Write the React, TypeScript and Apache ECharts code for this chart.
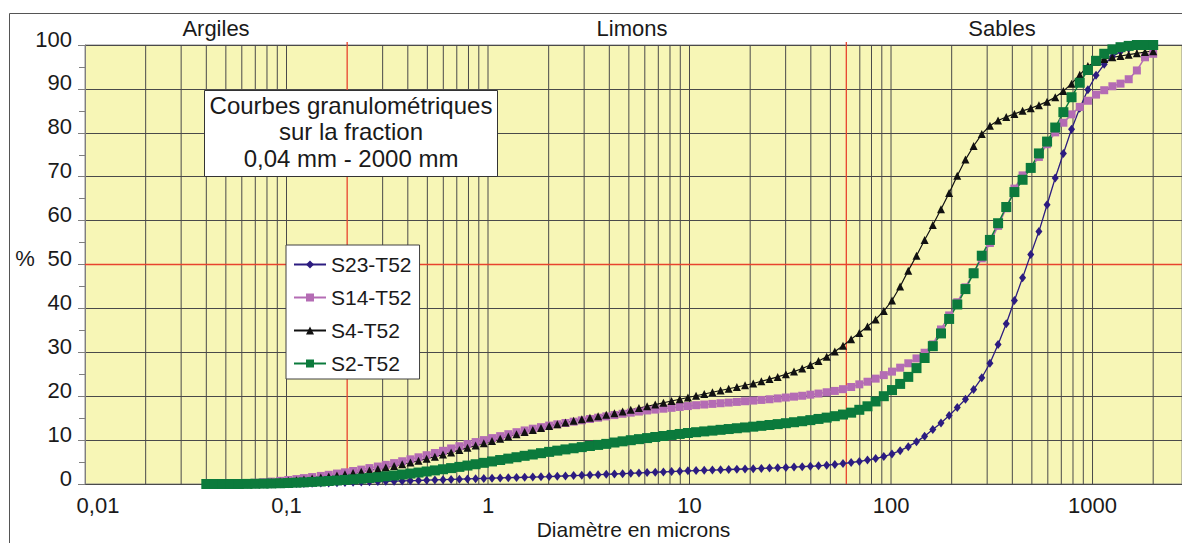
import React, { useEffect, useRef } from 'react';
import * as echarts from 'echarts';

// Particle diameters (µm) of the granulometer channels
const diameters = [
  0.04, 0.044, 0.048, 0.053, 0.058, 0.064, 0.07, 0.077, 0.084, 0.093,
  0.102, 0.112, 0.122, 0.134, 0.148, 0.162, 0.178, 0.195, 0.214, 0.235,
  0.258, 0.284, 0.311, 0.342, 0.375, 0.412, 0.452, 0.496, 0.545, 0.598,
  0.656, 0.721, 0.791, 0.868, 0.953, 1.047, 1.149, 1.261, 1.385, 1.52,
  1.668, 1.832, 2.011, 2.207, 2.423, 2.66, 2.92, 3.205, 3.519, 3.862,
  4.241, 4.656, 5.111, 5.611, 6.159, 6.761, 7.422, 8.148, 8.944, 9.819,
  10.78, 11.83, 12.99, 14.26, 15.65, 17.18, 18.86, 20.71, 22.73, 24.95,
  27.39, 30.07, 33.01, 36.24, 39.78, 43.67, 47.94, 52.62, 57.77, 63.41,
  69.61, 76.42, 83.9, 92.09, 101.1, 111, 121.8, 133.8, 146.8, 161.2,
  177, 194.3, 213.2, 234.1, 257, 282.1, 309.6, 339.9, 373.1, 409.6,
  449.7, 493.6, 541.9, 594.9, 653, 716.8, 786.9, 863.9, 948.3, 1041,
  1143, 1255, 1377, 1512, 1660, 1822, 2000,
];

const s23 = [
  0, 0, 0, 0, 0, 0, 0, 0, 0.02, 0.04,
  0.06, 0.09, 0.12, 0.16, 0.2, 0.25, 0.3, 0.35, 0.4, 0.45,
  0.5, 0.55, 0.6, 0.65, 0.7, 0.75, 0.8, 0.86, 0.92, 0.98,
  1.04, 1.1, 1.16, 1.22, 1.28, 1.33, 1.38, 1.43, 1.48, 1.53,
  1.58, 1.64, 1.7, 1.77, 1.84, 1.91, 1.98, 2.05, 2.12, 2.2,
  2.28, 2.36, 2.44, 2.52, 2.6, 2.68, 2.76, 2.84, 2.92, 3.0,
  3.06, 3.12, 3.18, 3.24, 3.3, 3.36, 3.42, 3.48, 3.55, 3.62,
  3.69, 3.77, 3.85, 3.94, 4.04, 4.15, 4.28, 4.45, 4.65, 4.9,
  5.15, 5.45, 5.8, 6.25, 6.85, 7.6, 8.5, 9.6, 10.9, 12.4,
  13.9, 15.6, 17.4, 19.3, 21.5, 24.2, 27.5, 31.8, 36.5, 41.8,
  47.0, 52.3, 57.5, 63.6, 69.7, 75.3, 80.8, 85.6, 89.8, 93.1,
  95.6, 97.4, 98.5, 99.2, 99.6, 99.9, 100,
];

const s14 = [
  0, 0, 0.02, 0.05, 0.1, 0.18, 0.28, 0.4, 0.55, 0.72,
  0.92, 1.12, 1.34, 1.58, 1.84, 2.1, 2.38, 2.66, 2.96, 3.28,
  3.62, 3.98, 4.36, 4.76, 5.18, 5.62, 6.08, 6.56, 7.06, 7.56,
  8.1, 8.6, 9.1, 9.55, 10.0, 10.45, 10.9, 11.35, 11.8, 12.2,
  12.6, 12.95, 13.3, 13.6, 13.9, 14.2, 14.5, 14.8, 15.1, 15.4,
  15.7, 16.0, 16.25, 16.5, 16.75, 16.95, 17.15, 17.35, 17.55, 17.75,
  17.95, 18.1, 18.25, 18.4, 18.55, 18.7, 18.85, 19.0, 19.15, 19.3,
  19.5, 19.7, 19.9, 20.1, 20.35, 20.6, 20.9, 21.2, 21.6, 22.1,
  22.7, 23.3, 24.0, 24.8, 25.6, 26.5, 27.5, 28.6, 29.9, 31.8,
  35.2, 38.4, 41.4, 44.8, 48.2, 51.4, 54.9, 58.8, 62.8, 67.3,
  70.3, 72.0, 74.5, 77.4, 80.1, 82.3, 84.2, 85.9, 87.3, 88.7,
  89.7, 90.6, 91.2, 92.2, 94.2, 97.2, 98.0,
];

const s4 = [
  0, 0, 0.02, 0.05, 0.1, 0.15, 0.2, 0.3, 0.42, 0.56,
  0.72, 0.88, 1.05, 1.25, 1.48, 1.7, 1.95, 2.2, 2.5, 2.8,
  3.1, 3.42, 3.76, 4.12, 4.5, 4.9, 5.32, 5.76, 6.22, 6.7,
  7.2, 7.72, 8.24, 8.76, 9.28, 9.8, 10.32, 10.84, 11.34, 11.84,
  12.3, 12.76, 13.2, 13.62, 14.02, 14.4, 14.76, 15.1, 15.44, 15.76,
  16.1, 16.5, 16.9, 17.3, 17.7, 18.1, 18.5, 18.9, 19.3, 19.7,
  20.1, 20.5, 20.9, 21.3, 21.7, 22.1, 22.5, 22.9, 23.4, 23.9,
  24.4, 25.0, 25.6, 26.3, 27.1, 28.0, 29.0, 30.2, 31.5, 33.0,
  34.4, 35.9, 37.5, 39.4, 41.8, 45.0, 48.6, 52.0, 55.6, 59.0,
  62.6, 66.3, 70.2, 73.9, 77.0, 79.7, 81.6, 82.8, 83.6, 84.3,
  85.0, 85.6, 86.3, 87.1, 88.1, 89.5, 91.2, 93.2, 95.2, 96.2,
  96.8, 97.2, 97.5, 97.8, 98.1, 98.4, 98.6,
];

const s2 = [
  0, 0, 0, 0, 0, 0.02, 0.05, 0.08, 0.12, 0.17,
  0.23, 0.3, 0.38, 0.47, 0.57, 0.68, 0.8, 0.93, 1.07, 1.22,
  1.38, 1.56, 1.75, 1.95, 2.16, 2.38, 2.61, 2.85, 3.1, 3.36,
  3.62, 3.9, 4.2, 4.5, 4.82, 5.14, 5.46, 5.78, 6.1, 6.42,
  6.72, 7.02, 7.32, 7.6, 7.88, 8.14, 8.4, 8.66, 8.9, 9.14,
  9.45, 9.72, 9.98, 10.22, 10.46, 10.7, 10.94, 11.17, 11.4, 11.62,
  11.8, 11.98, 12.16, 12.34, 12.52, 12.7, 12.88, 13.06, 13.25, 13.44,
  13.64, 13.85, 14.07, 14.3, 14.55, 14.82, 15.12, 15.45, 15.82, 16.25,
  16.9, 17.7, 18.8, 20.0, 21.4, 22.8, 24.4, 26.4, 28.7, 31.4,
  34.3, 37.6, 40.9, 44.4, 48.0, 52.0, 55.6, 59.4, 63.1, 66.5,
  69.3, 72.0, 75.3, 78.0, 81.2, 84.7, 88.1, 91.4, 94.3, 96.4,
  98.0, 99.0, 99.5, 99.8, 100, 100, 100,
];

const seriesNames = ['S23-T52', 'S14-T52', 'S4-T52', 'S2-T52'];

const xTickValues = [0.01, 0.1, 1, 10, 100, 1000];
const xTickLabels = ['0,01', '0,1', '1', '10', '100', '1000'];
const xMin = 0.01;
const xMax = 2780;

// Gray log-grid diameters (the red limits replace 0.2 and 60)
const gridDiameters = [
  0.02, 0.03, 0.04, 0.05, 0.06, 0.07, 0.08, 0.09, 0.1,
  0.3, 0.4, 0.5, 0.6, 0.7, 0.8, 0.9, 1,
  2, 3, 4, 5, 6, 7, 8, 9, 10,
  20, 30, 40, 50, 70, 80, 90, 100,
  200, 300, 400, 500, 600, 700, 800, 900, 1000, 2000,
];
const redDiameters = [0.2, 60];
const redPercent = 50;

const zoneLabels = ['Argiles', 'Limons', 'Sables'];
const titleLines = ['Courbes granulométriques', 'sur la fraction', '0,04 mm - 2000 mm'];

const FONT = '"Liberation Sans", Arial, Helvetica, sans-serif';

export default function App() {
  const ref = useRef<HTMLDivElement>(null);

  useEffect(() => {
    if (!ref.current) return;
    const chart = echarts.init(ref.current, null, { renderer: 'svg' });
    const mk = (vals: number[]) => diameters.map((d, i) => [d, vals[i]]);

    const zoneX = [216, 632, 1002];
    const titleY = [105, 131, 158];

    const option: any = {
      animation: false,
      backgroundColor: '#ffffff',
      textStyle: { fontFamily: FONT },
      grid: {
        left: 85,
        top: 45,
        right: 0,
        bottom: 59,
        containLabel: false,
        outerBoundsMode: 'none',
        show: true,
        backgroundColor: '#f7f6b6',
        borderColor: '#8c8c8c',
        borderWidth: 1,
      },
      xAxis: {
        type: 'log',
        logBase: 10,
        min: xMin,
        max: xMax,
        splitNumber: 5,
        axisLine: { show: false },
        axisTick: { show: false },
        splitLine: { show: false },
        axisLabel: {
          fontSize: 22,
          lineHeight: 18,
          color: '#1a1a1a',
          margin: 12,
          fontFamily: FONT,
          formatter: (v: number) => {
            const i = xTickValues.findIndex((t) => Math.abs(Math.log10(t) - Math.log10(v)) < 1e-6);
            if (i < 0) return '';
            return i === 0 ? `{first|${xTickLabels[i]}}` : xTickLabels[i];
          },
          rich: {
            first: {
              fontSize: 22,
              lineHeight: 18,
              color: '#1a1a1a',
              fontFamily: FONT,
              padding: [0, 0, 0, 26],
            },
          },
        },
        name: 'Diamètre en microns',
        nameLocation: 'middle',
        nameGap: 35,
        nameMoveOverlap: false,
        nameTextStyle: { fontSize: 21, lineHeight: 21, color: '#1a1a1a', fontFamily: FONT },
      },
      yAxis: {
        type: 'value',
        min: 0,
        max: 100,
        interval: 10,
        axisLine: { show: true, lineStyle: { color: '#7f7f7f', width: 1 } },
        axisTick: { show: true, inside: false, length: 7, lineStyle: { color: '#7f7f7f' } },
        minorTick: { show: true, splitNumber: 2, length: 6, lineStyle: { color: '#7f7f7f' } },
        splitLine: { show: true, lineStyle: { color: '#4a4a4a', width: 1 } },
        axisLabel: {
          fontSize: 22,
          color: '#1a1a1a',
          margin: 13,
          verticalAlign: 'bottom',
          lineHeight: 12,
          fontFamily: FONT,
        },
      },
      legend: {
        data: seriesNames,
        orient: 'vertical',
        left: 286,
        top: 245,
        backgroundColor: '#ffffff',
        borderColor: '#404040',
        borderWidth: 1,
        borderRadius: 0,
        padding: [9, 8, 5, 7],
        itemGap: 12,
        itemWidth: 32,
        itemHeight: 10,
        itemTextGap: 5,
        textStyle: { fontSize: 21, color: '#1a1a1a', fontFamily: FONT },
        z: 20,
      },
      graphic: [
        {
          type: 'rect',
          silent: true,
          z: 0,
          shape: { x: 9.5, y: 13.5, width: 1300, height: 700 },
          style: { fill: 'none', stroke: '#555555', lineWidth: 1 },
        },
        {
          type: 'rect',
          silent: true,
          z: 30,
          shape: { x: 204.5, y: 90.5, width: 293, height: 86 },
          style: { fill: '#ffffff', stroke: '#333333', lineWidth: 1 },
        },
        ...titleLines.map((t, i) => ({
          type: 'text',
          silent: true,
          z: 31,
          x: 351,
          y: titleY[i],
          style: {
            text: t,
            fill: '#1a1a1a',
            font: `24px ${FONT}`,
            textAlign: 'center',
            textVerticalAlign: 'middle',
            align: 'center',
            verticalAlign: 'middle',
          },
        })),
        ...zoneLabels.map((t, i) => ({
          type: 'text',
          silent: true,
          z: 31,
          x: zoneX[i],
          y: 28,
          style: {
            text: t,
            fill: '#1a1a1a',
            font: `22px ${FONT}`,
            textAlign: 'center',
            textVerticalAlign: 'middle',
            align: 'center',
            verticalAlign: 'middle',
          },
        })),
        {
          type: 'text',
          silent: true,
          z: 31,
          x: 25,
          y: 258,
          style: {
            text: '%',
            fill: '#1a1a1a',
            font: `22px ${FONT}`,
            textAlign: 'center',
            textVerticalAlign: 'middle',
            align: 'center',
            verticalAlign: 'middle',
          },
        },
      ],
      series: [
        {
          type: 'custom',
          name: 'grid',
          silent: true,
          z: 1,
          data: gridDiameters.map((d) => [d, 0]),
          encode: { x: 0, y: 1 },
          renderItem: (params: any, api: any) => {
            const d = api.value(0);
            const a = api.coord([d, 100]);
            const b = api.coord([d, 0]);
            return {
              type: 'line',
              shape: { x1: a[0], y1: a[1], x2: b[0], y2: b[1] },
              style: { stroke: '#4a4a4a', lineWidth: 1 },
            };
          },
        },
        {
          type: 'custom',
          name: 'limits',
          silent: true,
          z: 2,
          data: redDiameters.map((d) => [d, 0]),
          encode: { x: 0, y: 1 },
          renderItem: (params: any, api: any) => {
            const d = api.value(0);
            const a = api.coord([d, 100]);
            const b = api.coord([d, 0]);
            return {
              type: 'line',
              shape: { x1: a[0], y1: a[1] - 3, x2: b[0], y2: b[1] },
              style: { stroke: '#e8432e', lineWidth: 1.3 },
            };
          },
        },
        {
          type: 'custom',
          name: 'limit50',
          silent: true,
          z: 2,
          data: [[xMin, redPercent]],
          encode: { x: 0, y: 1 },
          renderItem: (params: any, api: any) => {
            const a = api.coord([xMin, api.value(1)]);
            const b = api.coord([xMax, api.value(1)]);
            return {
              type: 'line',
              shape: { x1: a[0], y1: a[1], x2: b[0], y2: b[1] },
              style: { stroke: '#e8432e', lineWidth: 1.3 },
            };
          },
        },
        {
          name: seriesNames[0],
          type: 'line',
          z: 3,
          data: mk(s23),
          symbol: 'diamond',
          symbolSize: [7, 9],
          showSymbol: true,
          lineStyle: { color: '#2c1c80', width: 1.3 },
          itemStyle: { color: '#2c1c80' },
        },
        {
          name: seriesNames[1],
          type: 'line',
          z: 3,
          data: mk(s14),
          symbol: 'rect',
          symbolSize: 8,
          showSymbol: true,
          lineStyle: { color: '#b46cb4', width: 1.5 },
          itemStyle: { color: '#b46cb4' },
        },
        {
          name: seriesNames[2],
          type: 'line',
          z: 3,
          data: mk(s4),
          symbol: 'triangle',
          symbolSize: 8,
          showSymbol: true,
          lineStyle: { color: '#111111', width: 1.2 },
          itemStyle: { color: '#111111' },
        },
        {
          name: seriesNames[3],
          type: 'line',
          z: 3,
          data: mk(s2),
          symbol: 'rect',
          symbolSize: 10,
          showSymbol: true,
          lineStyle: { color: '#0b7a3c', width: 1.5 },
          itemStyle: { color: '#0b7a3c' },
        },
      ],
    };

    chart.setOption(option);
    return () => chart.dispose();
  }, []);

  return (
    <div
      ref={ref}
      style={{ position: 'absolute', left: 0, top: 0, width: 1182, height: 543, background: '#fff' }}
    />
  );
}
